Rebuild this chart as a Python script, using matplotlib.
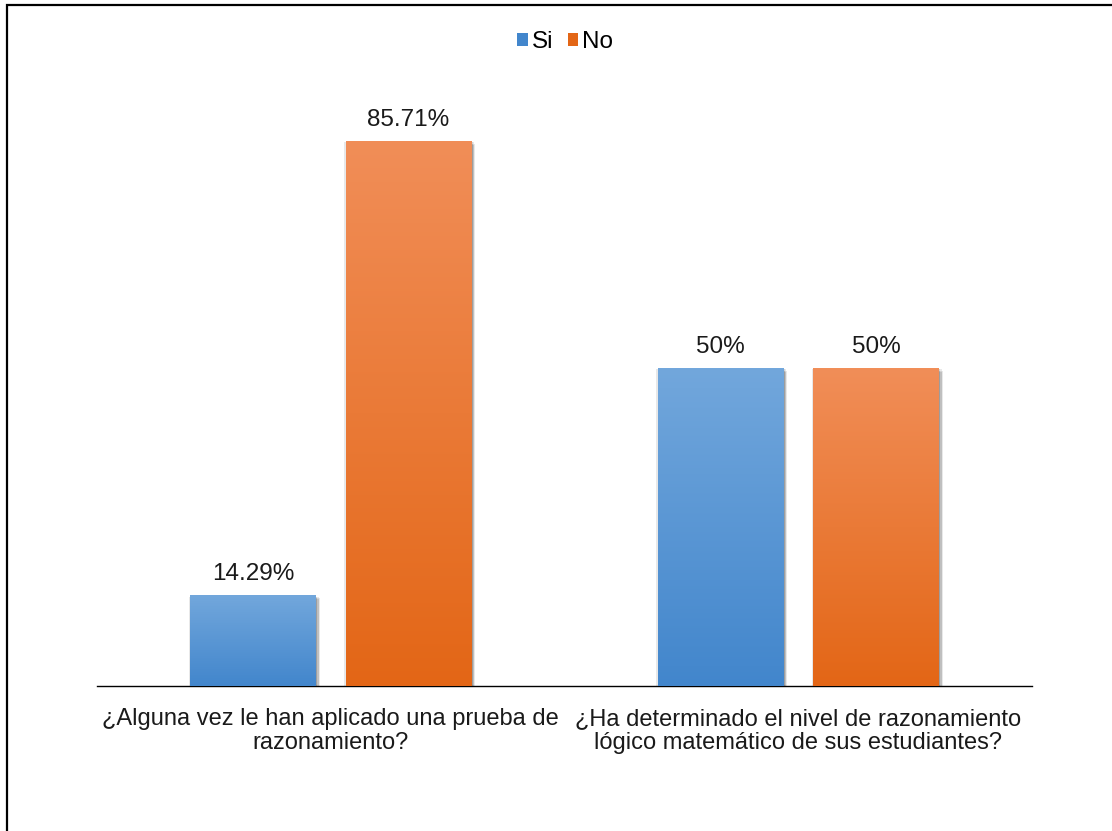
import numpy as np
import matplotlib
matplotlib.use('Agg')
import matplotlib.pyplot as plt
import matplotlib.patheffects as pe
from matplotlib.patches import Patch, Rectangle

plt.rcParams['font.family'] = ['Liberation Sans', 'DejaVu Sans']

categories = ['¿Alguna vez le han aplicado una prueba de\nrazonamiento?',
              '¿Ha determinado el nivel de razonamiento\nlógico matemático de sus estudiantes?']
series_names = ['Si', 'No']
si_values = [14.29, 50]
no_values = [85.71, 50]

# gradient colours (top, bottom) per series
colors = {
    'Si': ('#72A7DC', '#4286CC'),
    'No': ('#F18E58', '#E36616'),
}
FS = 17.5


def gradient_fill(ax, bar, top, bottom):
    x0, y0 = bar.get_x(), bar.get_y()
    w, h = bar.get_width(), bar.get_height()
    c1 = np.array(matplotlib.colors.to_rgb(top))
    c2 = np.array(matplotlib.colors.to_rgb(bottom))
    t = np.linspace(0, 1, 256)[:, None]
    grad = (c1 * (1 - t) + c2 * t)[:, None, :]
    im = ax.imshow(grad, extent=(x0, x0 + w, y0, y0 + h), aspect='auto',
                   origin='upper', zorder=3, interpolation='bilinear')
    im.set_clip_path(bar)


fig = plt.figure(figsize=(11.12, 8.31), dpi=100)
ax = fig.add_axes([97 / 1112, 145 / 831, 935 / 1112, 636 / 831])

x = np.arange(len(categories))
width = 0.2687
offset = 0.1663

shadow = [pe.SimplePatchShadow(offset=o, alpha=0.09, shadow_rgbFace='black')
          for o in [(-1, -1), (1, -2), (2, -3), (3, -2), (2, -1), (1, -1)]] + [pe.Normal()]

bars_si = ax.bar(x - offset, si_values, width, color=colors['Si'][1], zorder=2, label='Si')
bars_no = ax.bar(x + offset, no_values, width, color=colors['No'][1], zorder=2, label='No')

for bars, name in [(bars_si, 'Si'), (bars_no, 'No')]:
    for b in bars:
        b.set_path_effects(shadow)
        gradient_fill(ax, b, *colors[name])
    ax.bar_label(bars, labels=['{:g}%'.format(v) for v in bars.datavalues],
                 padding=7, fontsize=FS, color='#1a1a1a', zorder=4)

ax.set_xlim(-0.5, 1.5)
ax.set_ylim(0, 100)
for s in ['top', 'right', 'left']:
    ax.spines[s].set_visible(False)
ax.spines['bottom'].set_linewidth(1.0)
ax.spines['bottom'].set_color('black')
ax.set_yticks([])
ax.set_xticks(x)
ax.set_xticklabels(categories, fontsize=17, linespacing=1.12, color='#1a1a1a')
ax.tick_params(axis='x', length=0, pad=16)

handles = [Patch(facecolor=colors['Si'][1], label='Si'),
           Patch(facecolor=colors['No'][1], label='No')]
fig.legend(handles=handles, loc='center', bbox_to_anchor=(565 / 1112, 1 - 42 / 831), ncol=2,
           frameon=False, fontsize=FS, handlelength=0.45, handleheight=0.45,
           handletextpad=0.15, columnspacing=0.6)

# outer frame, only left and top edges fall inside the image
fig.add_artist(Rectangle((7 / 1112, -0.1), 1.2, 1.1 - 5 / 831, transform=fig.transFigure,
                         fill=False, edgecolor='black', linewidth=1.6))

fig.savefig('out.png', dpi=100)
